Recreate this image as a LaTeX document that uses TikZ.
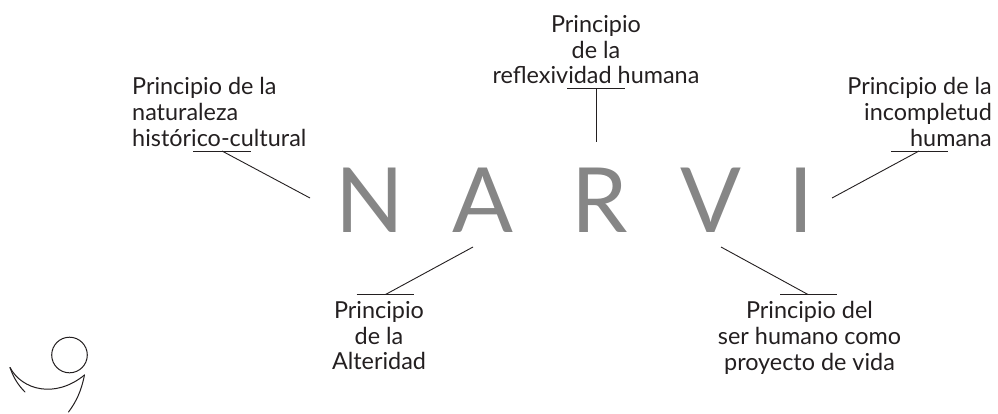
\documentclass[tikz,border=0pt]{standalone}
\usepackage{fontspec}
\setmainfont{Lato}
\definecolor{ink}{HTML}{231F20}
\definecolor{biggrey}{HTML}{868686}
\tikzset{
  lbl/.style={inner sep=0pt,text=ink,font=\fontsize{23.4}{25.8}\selectfont},
  letter/.style={inner sep=0pt,text=biggrey,anchor=base,font=\fontsize{90}{90}\selectfont},
  con/.style={draw=ink,line width=0.9pt},
  fig/.style={draw=ink,line width=1pt,line cap=round}
}
\begin{document}
\begin{tikzpicture}[x=1pt,y=-1pt]
\useasboundingbox (0,0) rectangle (998,413);
\node[letter] (n) at (370,232) {N};
\node[letter] (a) at (483,232) {A};
\node[letter] (r) at (600,232) {R};
\node[letter] (v) at (711,232) {V};
\node[letter] (i) at (801.5,232) {I};
\node[lbl,align=left,anchor=north west] (l1) at (132,77.5) {Principio de la\\naturaleza\\histórico-cultural};
\node[lbl,align=center,anchor=north] (l2) at (596,15) {Principio\\de la\\reflexividad humana};
\node[lbl,align=right,anchor=north east] (l3) at (992,77.5) {Principio de la\\incompletud\\humana};
\node[lbl,align=center,anchor=north] (l4) at (379,301) {Principio\\de la\\Alteridad};
\node[lbl,align=center,anchor=north] (l5) at (809.5,301) {Principio del\\ser humano como\\proyecto de vida};
\coordinate (u1a) at (193,151); \coordinate (u1b) at (250.5,151); \coordinate (c1) at (222,151); \coordinate (e1) at (310,198);
\coordinate (u2a) at (567,88); \coordinate (u2b) at (624.5,88); \coordinate (c2) at (596,88); \coordinate (e2) at (596,142);
\coordinate (u3a) at (891,151); \coordinate (u3b) at (948,151); \coordinate (c3) at (919,151); \coordinate (e3) at (832,198);
\coordinate (u4a) at (356.5,294.5); \coordinate (u4b) at (413.5,294.5); \coordinate (c4) at (385.5,294.5); \coordinate (e4) at (473,247);
\coordinate (u5a) at (780,294.5); \coordinate (u5b) at (837,294.5); \coordinate (c5) at (808,294.5); \coordinate (e5) at (721,247);
\foreach \k in {1,...,5} {
  \draw[con] (u\k a) -- (u\k b);
  \draw[con] (c\k) -- (e\k);
}
\draw[fig] (69.5,355) circle (17.8);
\draw[fig] (10,367.5) .. controls (22,390) and (55,399) .. (84.5,375);
\draw[fig] (10,367.5) .. controls (14,379) and (19,386) .. (25,392);
\draw[fig] (84.5,375) .. controls (81,392) and (76,402) .. (68.5,412);
\end{tikzpicture}
\end{document}
